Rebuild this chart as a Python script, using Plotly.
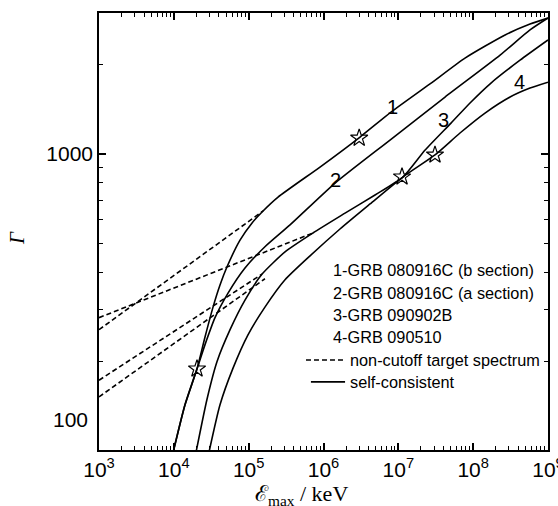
import math
import plotly.graph_objects as go

# ---- self-consistent Gamma(E_max) curves (E in keV) ----
c1_E = [0.97e4, 1.41e4, 2.04e4, 2.61e4, 3.34e4, 4.14e4, 5.14e4, 7.66e4, 1.11e5, 1.51e5,
        2.47e5, 8.98e5, 3.08e6, 7.98e6, 2.65e7, 7.78e7, 2.67e8, 5.75e8, 1.0e9]
c1_G = [98, 143, 189, 242, 305, 362, 417, 513, 586, 638,
        716, 904, 1141, 1384, 1722, 2104, 2518, 2741, 2871]

c2_E = [0.97e4, 1.41e4, 2.04e4, 2.61e4, 3.55e4, 5.30e4, 8.93e4, 1.65e5, 3.57e5, 1.43e6,
        7.74e6, 4.21e7, 2.29e8, 5.75e8, 1.0e9]
c2_G = [98, 143, 189, 228, 281, 340, 413, 487, 577, 798,
        1114, 1556, 2153, 2618, 2871]

c3_E = [1.98e4, 2.77e4, 3.78e4, 5.64e4, 8.93e4, 1.51e5, 3.06e5, 7.24e5, 1.94e6, 4.88e6,
        1.16e7, 2.28e7, 5.06e7, 9.08e7, 1.73e8, 4.23e8, 1.0e9]
c3_G = [99, 149, 200, 256, 322, 394, 468, 542, 632, 728,
        838, 1031, 1271, 1486, 1734, 2070, 2421]

c4_E = [2.95e4, 4.14e4, 6.18e4, 9.79e4, 1.65e5, 3.06e5, 6.61e5, 1.66e6, 4.19e6,
        1.16e7, 3.09e7, 6.67e7, 1.44e8, 3.11e8, 5.75e8, 1.0e9]
c4_G = [99, 143, 190, 246, 305, 377, 454, 559, 679,
        838, 993, 1177, 1374, 1556, 1668, 1746]

# ---- non-cutoff target spectrum (power laws) ----
d1_E = [1.0e3, 1.56e5]
d1_G = [256, 643]
d2_E = [1.0e3, 7.24e5]
d2_G = [281, 542]
d3_E = [1.0e3, 1.51e5]
d3_G = [173, 394]
d4_E = [1.0e3, 1.65e5]
d4_G = [152, 380]

# ---- marked points ----
star_E = [3.0e6, 2.04e4, 1.12e7, 3.09e7]
star_G = [1132, 189, 838, 993]

# ---- curve numbers ----
lab_text = ["1", "2", "3", "4"]
lab_E = [8.24e6, 1.43e6, 4.07e7, 4.1e8]
lab_G = [1439, 817, 1302, 1746]

legend_rows = ["1-GRB 080916C (b section)", "2-GRB 080916C (a section)",
               "3-GRB 090902B", "4-GRB 090510"]

x_ticks = [1e3, 1e4, 1e5, 1e6, 1e7, 1e8, 1e9]
x_ticktext = ["10<sup>%d</sup>" % p for p in range(3, 10)]

fig = go.Figure()

solid = dict(color="black", width=1.6)
dashed = dict(color="black", width=1.6, dash="5px,3px")

for E, G in [(d1_E, d1_G), (d2_E, d2_G), (d3_E, d3_G), (d4_E, d4_G)]:
    fig.add_trace(go.Scatter(x=E, y=G, mode="lines", line=dashed, showlegend=False))

for E, G in [(c1_E, c1_G), (c2_E, c2_G), (c3_E, c3_G), (c4_E, c4_G)]:
    fig.add_trace(go.Scatter(x=E, y=G, mode="lines", line=solid,
                             line_shape="spline", line_smoothing=0.6, showlegend=False))

fig.add_trace(go.Scatter(x=star_E, y=star_G, mode="markers", showlegend=False,
                         marker=dict(symbol="star-open", size=13, color="black",
                                     line=dict(color="black", width=1.2))))

for t, E, G in zip(lab_text, lab_E, lab_G):
    fig.add_annotation(x=math.log10(E), y=math.log10(G), text=t, showarrow=False,
                       font=dict(family="Liberation Sans", size=20, color="black"))

# legend block
tick_font = dict(family="Liberation Sans", size=21, color="black")
leg_font = dict(family="Liberation Sans", size=16.3, color="black")
row_y = [0.412, 0.359, 0.309, 0.259, 0.206, 0.156]
for t, yy in zip(legend_rows, row_y[:4]):
    fig.add_annotation(xref="paper", yref="paper", x=0.5167, y=yy, text=t,
                       showarrow=False, xanchor="left", yanchor="middle", font=leg_font)
fig.add_annotation(xref="paper", yref="paper", x=0.5546, y=row_y[4],
                   text="non-cutoff target spectrum", showarrow=False,
                   xanchor="left", yanchor="middle", font=leg_font)
fig.add_annotation(xref="paper", yref="paper", x=0.5546, y=row_y[5],
                   text="self-consistent", showarrow=False,
                   xanchor="left", yanchor="middle", font=leg_font)
fig.add_shape(type="line", xref="paper", yref="paper", x0=0.461, x1=0.548,
              y0=row_y[4], y1=row_y[4], line=dashed)
fig.add_shape(type="line", xref="paper", yref="paper", x0=0.472, x1=0.548,
              y0=row_y[5], y1=row_y[5], line=solid)

# axis titles
fig.add_annotation(xref="paper", yref="paper", x=0.452, y=-0.066,
                   text="ℰ<sub>max</sub> / keV", showarrow=False, yanchor="top",
                   xanchor="center",
                   font=dict(family="Liberation Serif, DejaVu Serif", size=22, color="black"))
fig.add_annotation(xref="paper", yref="paper", x=-0.1826, y=0.485, text="<i>Γ</i>",
                   showarrow=False, textangle=-90, xanchor="center", yanchor="middle",
                   font=dict(family="Liberation Serif", size=21, color="black"))
# "100" label sits above the bottom corner
fig.add_annotation(xref="paper", yref="paper", x=-0.02, y=0.069, text="100",
                   showarrow=False, xanchor="right", yanchor="middle", font=tick_font)

x_minor = [m * 10 ** p for p in range(3, 9) for m in range(2, 10)]
y_minor = [m * 10 ** p for p in range(2, 4) for m in range(2, 10) if m * 10 ** p < 3000]

fig.update_xaxes(type="log", range=[2.9999, 9.0001], tickvals=x_ticks, ticktext=x_ticktext,
                 ticklabeloverflow="allow", automargin=False,
                 ticks="inside", ticklen=7, tickwidth=1.5, tickcolor="black",
                 showline=True, linewidth=1.6, linecolor="black", mirror="allticks",
                 showgrid=False, zeroline=False, tickfont=tick_font,
                 minor=dict(tickvals=x_minor, ticks="inside", ticklen=4,
                            tickwidth=1.2, tickcolor="black", showgrid=False))
fig.update_yaxes(type="log", range=[2.003, 3.475], tickvals=[100, 1000],
                 ticktext=["", "1000"], automargin=False,
                 ticks="inside", ticklen=7, tickwidth=1.5, tickcolor="black",
                 showline=True, linewidth=1.6, linecolor="black", mirror="allticks",
                 showgrid=False, zeroline=False, tickfont=tick_font,
                 minor=dict(tickvals=y_minor, ticks="inside", ticklen=4,
                            tickwidth=1.2, tickcolor="black", showgrid=False))

fig.update_layout(width=558, height=506, margin=dict(l=99, r=10, t=13, b=56),
                  paper_bgcolor="white", plot_bgcolor="white", showlegend=False)

fig.write_html("out.html")
